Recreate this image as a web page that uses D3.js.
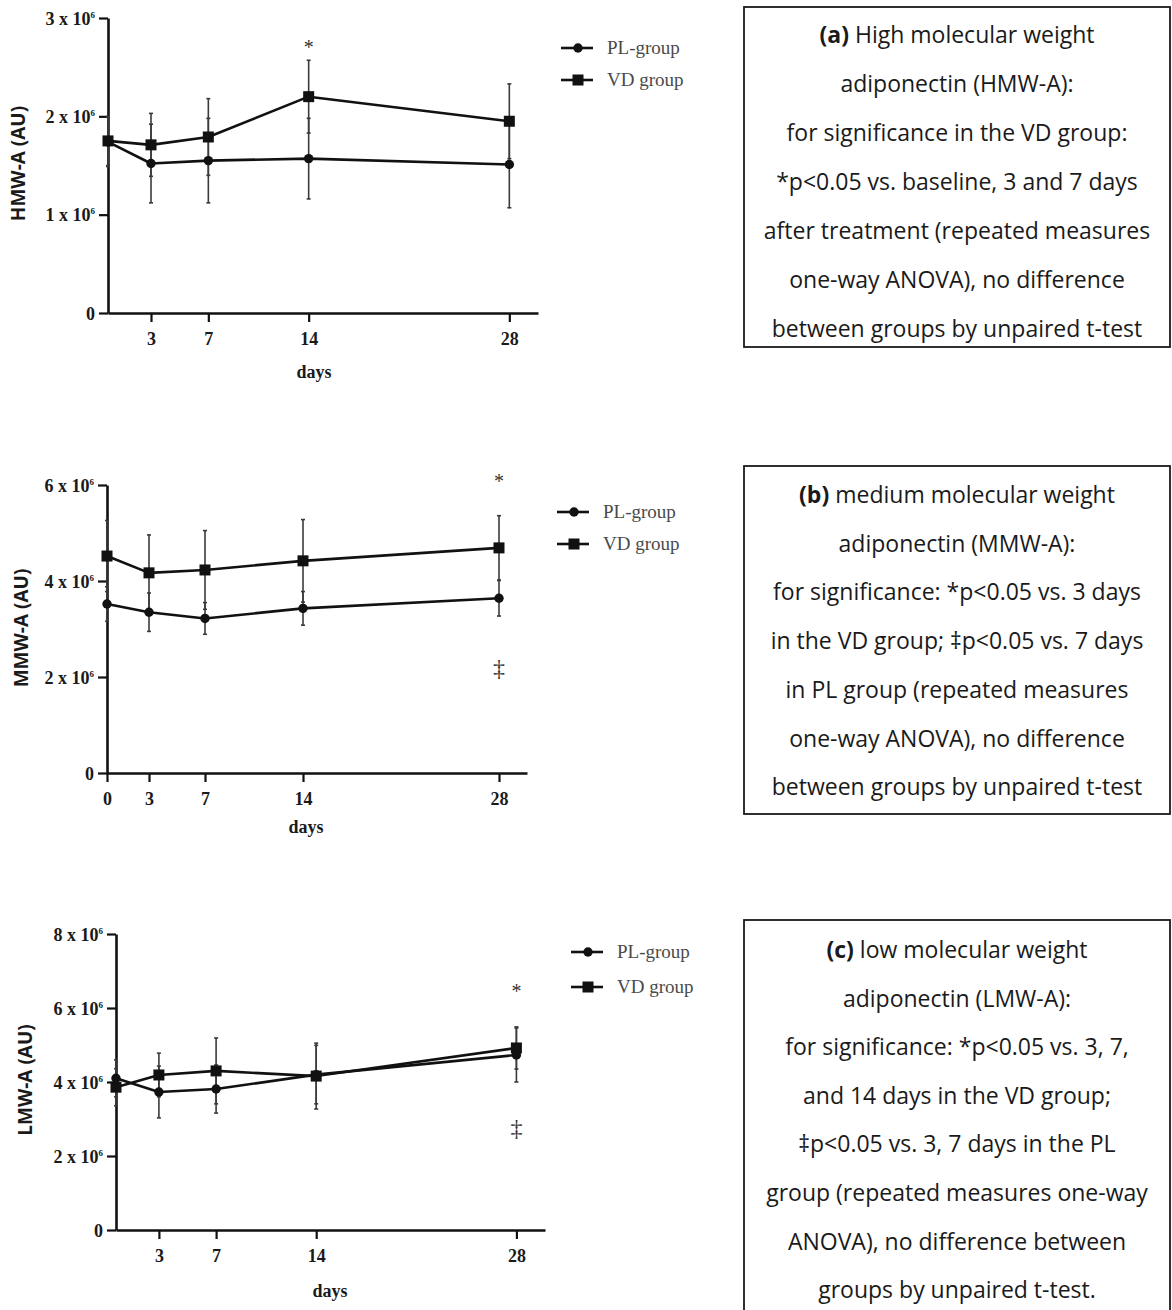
<!DOCTYPE html>
<html>
<head>
<meta charset="utf-8">
<script src="https://cdn.jsdelivr.net/npm/d3@7"></script>
<style>
  body { margin: 0; background: #fff; }
  svg { display: block; }
</style>
</head>
<body>
<svg id="fig" width="1172" height="1310"></svg>
<script>
// Sampling days (after treatment)
const days = [0, 3, 7, 14, 28];
const seriesNames = ["PL-group", "VD group"];

// (a) High molecular weight adiponectin, in 10^6 AU (mean, SD)
const hmwPL   = [1.74, 1.52, 1.55, 1.57, 1.51];
const hmwPLsd = [0.25, 0.40, 0.43, 0.41, 0.44];
const hmwVD   = [1.75, 1.71, 1.79, 2.20, 1.95];
const hmwVDsd = [0.25, 0.32, 0.39, 0.37, 0.38];
const hmwYTicks = [0, 1, 2, 3];
const hmwXTicks = [3, 7, 14, 28];
const hmwMarks = [{ day: 14, value: 2.78, symbol: "*" }];

// (b) Medium molecular weight adiponectin, in 10^6 AU
const mmwPL   = [3.52, 3.35, 3.22, 3.43, 3.64];
const mmwPLsd = [0.36, 0.40, 0.33, 0.35, 0.37];
const mmwVD   = [4.52, 4.17, 4.23, 4.42, 4.69];
const mmwVDsd = [0.74, 0.79, 0.82, 0.86, 0.67];
const mmwYTicks = [0, 2, 4, 6];
const mmwXTicks = [0, 3, 7, 14, 28];
const mmwMarks = [{ day: 28, value: 6.22, symbol: "*" }, { day: 28, value: 2.2, symbol: "‡" }];

// (c) Low molecular weight adiponectin, in 10^6 AU
const lmwPL   = [4.10, 3.73, 3.81, 4.20, 4.73];
const lmwPLsd = [0.50, 0.70, 0.65, 0.79, 0.73];
const lmwVD   = [3.86, 4.19, 4.30, 4.16, 4.92];
const lmwVDsd = [0.50, 0.59, 0.89, 0.89, 0.57];
const lmwYTicks = [0, 2, 4, 6, 8];
const lmwXTicks = [3, 7, 14, 28];
const lmwMarks = [{ day: 28, value: 6.66, symbol: "*" }, { day: 28, value: 2.76, symbol: "‡" }];

// Caption texts: first entry of each list is [bold label, rest of line]
const captionA = [
  ["(a)", " High molecular weight"],
  "adiponectin (HMW-A):",
  "for significance in the VD group:",
  "*p<0.05 vs. baseline, 3 and 7 days",
  "after treatment (repeated measures",
  "one-way ANOVA), no difference",
  "between groups by unpaired t-test"
];
const captionB = [
  ["(b)", " medium molecular weight"],
  "adiponectin (MMW-A):",
  "for significance: *p<0.05 vs. 3 days",
  "in the VD group; ‡p<0.05 vs. 7 days",
  "in PL group (repeated measures",
  "one-way ANOVA), no difference",
  "between groups by unpaired t-test"
];
const captionC = [
  ["(c)", " low molecular weight"],
  "adiponectin (LMW-A):",
  "for significance: *p<0.05 vs. 3, 7,",
  "and 14 days in the VD group;",
  "‡p<0.05 vs. 3, 7 days in the PL",
  "group (repeated measures one-way",
  "ANOVA), no difference between",
  "groups by unpaired t-test."
];

const svg = d3.select("#fig");
const SERIF = "'Liberation Serif', 'DejaVu Serif', serif";
const SANS = "'Open Sans', Lato, sans-serif";

function drawPanel(p) {
  const g = svg.append("g");
  const x = d3.scaleLinear().domain([0, 30]).range([p.left, p.right]);
  const y = d3.scaleLinear().domain([0, p.yMax]).range([p.bottom, p.top]);

  // y axis with "n x 10^6" labels
  const ya = g.append("g")
    .attr("transform", `translate(${p.left},0)`)
    .call(d3.axisLeft(y).tickValues(p.yTicks).tickSize(9).tickSizeOuter(0).tickPadding(4).tickFormat(""));
  ya.selectAll(".tick text").each(function (d) {
    const t = d3.select(this)
      .attr("font-family", SERIF).attr("font-size", 18).attr("font-weight", "bold")
      .attr("fill", "#1a1a1a").attr("dy", "0.35em");
    if (d === 0) { t.text("0"); return; }
    t.append("tspan").text(`${d} x 10`);
    t.append("tspan").text("6").attr("font-size", 9).attr("dy", "-0.8em");
  });

  // x axis
  const xa = g.append("g")
    .attr("transform", `translate(0,${p.bottom})`)
    .call(d3.axisBottom(x).tickValues(p.xTicks).tickSize(9).tickSizeOuter(0).tickPadding(10).tickFormat(d3.format("d")));
  xa.selectAll(".tick text")
    .attr("font-family", SERIF).attr("font-size", 18).attr("font-weight", "bold").attr("fill", "#1a1a1a");

  [ya, xa].forEach(a => {
    a.select(".domain").attr("stroke", "#111").attr("stroke-width", 2.6);
    a.selectAll(".tick line").attr("stroke", "#111").attr("stroke-width", 2.2);
  });

  // axis titles
  g.append("text")
    .attr("transform", `translate(${p.yTitleX},${(p.top + p.bottom) / 2 + p.yTitleShift}) rotate(-90)`)
    .attr("text-anchor", "middle").attr("dy", "0.35em")
    .attr("font-family", SANS).attr("font-size", 19).attr("font-weight", "bold").attr("fill", "#1a1a1a")
    .text(p.yTitle);
  g.append("text")
    .attr("x", p.xTitleX).attr("y", p.xTitleY)
    .attr("text-anchor", "middle")
    .attr("font-family", SERIF).attr("font-size", 18).attr("font-weight", "bold").attr("fill", "#1a1a1a")
    .text("days");

  const series = [
    { name: seriesNames[0], mean: p.pl, sd: p.plsd, shape: "circle" },
    { name: seriesNames[1], mean: p.vd, sd: p.vdsd, shape: "square" }
  ];

  // error bars (mean ± SD)
  series.forEach(s => {
    const eb = g.append("g").attr("stroke", "#3a3a3a").attr("stroke-width", 1.6);
    days.forEach((d, i) => {
      const cx = x(d), y1 = y(s.mean[i] - s.sd[i]), y2 = y(s.mean[i] + s.sd[i]);
      eb.append("line").attr("x1", cx).attr("x2", cx).attr("y1", y1).attr("y2", y2);
      eb.append("line").attr("x1", cx - 2).attr("x2", cx + 2).attr("y1", y1).attr("y2", y1);
      eb.append("line").attr("x1", cx - 2).attr("x2", cx + 2).attr("y1", y2).attr("y2", y2);
    });
  });

  // connecting lines
  const line = d3.line().x((d, i) => x(days[i])).y(d => y(d));
  series.forEach(s => {
    g.append("path").datum(s.mean)
      .attr("d", line).attr("fill", "none")
      .attr("stroke", "#111").attr("stroke-width", 2.6).attr("stroke-linejoin", "round");
  });

  // markers
  function marker(sel, shape, cx, cy) {
    if (shape === "circle") {
      sel.append("circle").attr("cx", cx).attr("cy", cy).attr("r", 4.7).attr("fill", "#111");
    } else {
      sel.append("rect").attr("x", cx - 5.5).attr("y", cy - 5.5).attr("width", 11).attr("height", 11).attr("fill", "#111");
    }
  }
  series.forEach(s => {
    days.forEach((d, i) => marker(g, s.shape, x(d), y(s.mean[i])));
  });

  // significance symbols
  p.marks.forEach(m => {
    g.append("text")
      .attr("x", x(m.day)).attr("y", y(m.value))
      .attr("text-anchor", "middle").attr("dy", m.symbol === "*" ? "0.7em" : "0.35em")
      .attr("font-family", SERIF).attr("font-size", m.symbol === "*" ? 20 : 24).attr("fill", "#333")
      .text(m.symbol);
  });

  // legend
  series.forEach((s, k) => {
    const ly = p.legendY[k];
    g.append("line")
      .attr("x1", p.legendX).attr("x2", p.legendX + 32).attr("y1", ly).attr("y2", ly)
      .attr("stroke", "#111").attr("stroke-width", 2.6);
    marker(g, s.shape, p.legendX + 17, ly);
    g.append("text")
      .attr("x", p.legendX + 46).attr("y", ly).attr("dy", "0.32em")
      .attr("font-family", SERIF).attr("font-size", 19).attr("fill", "#4a4a4a")
      .text(s.name);
  });
}

function drawCaption(lines, box) {
  svg.append("rect")
    .attr("x", box.x).attr("y", box.y).attr("width", box.w).attr("height", box.h)
    .attr("fill", "none").attr("stroke", "#1a1a1a").attr("stroke-width", 1.8);
  const cx = box.x + box.w / 2;
  lines.forEach((ln, i) => {
    const t = svg.append("text")
      .attr("x", cx).attr("y", box.firstLine + i * box.step).attr("dy", "0.35em")
      .attr("text-anchor", "middle")
      .attr("font-family", SANS).attr("font-size", 23).attr("fill", "#1a1a1a");
    if (Array.isArray(ln)) {
      t.append("tspan").attr("font-weight", "bold").text(ln[0]);
      t.append("tspan").text(ln[1]);
    } else {
      t.text(ln);
    }
  });
}

drawPanel({
  left: 108, right: 538, top: 18, bottom: 313, yMax: 3,
  yTicks: hmwYTicks, xTicks: hmwXTicks,
  pl: hmwPL, plsd: hmwPLsd, vd: hmwVD, vdsd: hmwVDsd, marks: hmwMarks,
  yTitle: "HMW-A (AU)", yTitleX: 18, yTitleShift: -2,
  xTitleX: 314, xTitleY: 378,
  legendX: 561, legendY: [48, 80]
});
drawPanel({
  left: 107, right: 527, top: 485, bottom: 773, yMax: 6,
  yTicks: mmwYTicks, xTicks: mmwXTicks,
  pl: mmwPL, plsd: mmwPLsd, vd: mmwVD, vdsd: mmwVDsd, marks: mmwMarks,
  yTitle: "MMW-A (AU)", yTitleX: 21, yTitleShift: -1,
  xTitleX: 306, xTitleY: 833,
  legendX: 557, legendY: [512, 544]
});
drawPanel({
  left: 116, right: 545, top: 934, bottom: 1230, yMax: 8,
  yTicks: lmwYTicks, xTicks: lmwXTicks,
  pl: lmwPL, plsd: lmwPLsd, vd: lmwVD, vdsd: lmwVDsd, marks: lmwMarks,
  yTitle: "LMW-A (AU)", yTitleX: 25, yTitleShift: -2,
  xTitleX: 330, xTitleY: 1297,
  legendX: 571, legendY: [952, 987]
});

drawCaption(captionA, { x: 744, y: 7, w: 426, h: 340, firstLine: 35, step: 49 });
drawCaption(captionB, { x: 744, y: 466, w: 426, h: 348, firstLine: 495, step: 48.7 });
drawCaption(captionC, { x: 744, y: 920, w: 426, h: 400, firstLine: 950, step: 48.6 });
</script>
</body>
</html>
